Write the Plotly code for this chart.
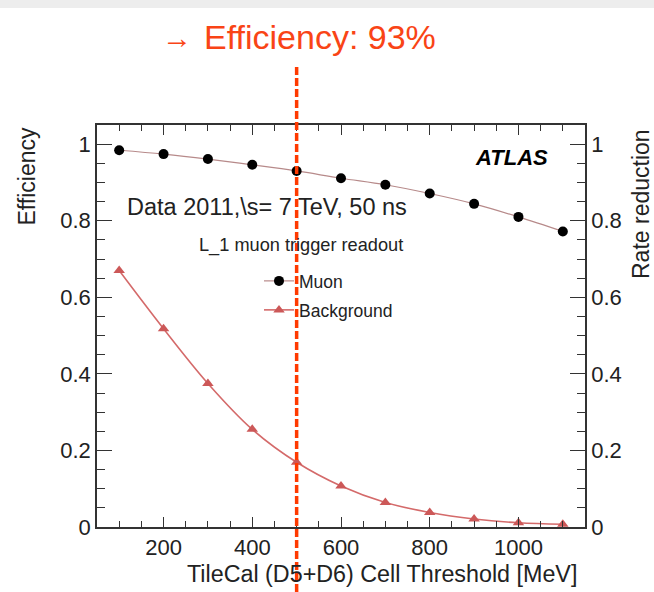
import plotly.graph_objects as go

thresholds = [100, 200, 300, 400, 500, 600, 700, 800, 900, 1000, 1100]
muon_eff = [0.984, 0.974, 0.961, 0.946, 0.930, 0.911, 0.894, 0.871, 0.844, 0.810, 0.772]
background = [0.670, 0.518, 0.375, 0.255, 0.169, 0.107, 0.064, 0.038, 0.021, 0.011, 0.007]
cut_value = 500
title_text = "Efficiency: 93%"
x_title = "TileCal (D5+D6) Cell Threshold [MeV]"
y_title = "Efficiency"
y2_title = "Rate reduction"
data_text = "Data 2011,\\s= 7 TeV, 50 ns"
sub_text = "L_1 muon trigger readout"

W, H = 654, 592
L, R, T, B = 97, 585, 125, 527
def fx(p): return (p - L) / (R - L)
def fy(p): return (B - p) / (B - T)

FONT = "Liberation Sans, Arial, sans-serif"
TXT = "#222222"

fig = go.Figure()
fig.add_trace(go.Scatter(
    x=thresholds, y=muon_eff, name="Muon", mode="lines+markers",
    line=dict(color="#b78a8a", width=1.2, shape="spline"),
    marker=dict(color="black", size=10, symbol="circle"),
    legend="legend", showlegend=True))
fig.add_trace(go.Scatter(
    x=thresholds, y=background, name="Background", mode="lines+markers",
    line=dict(color="#d46a6a", width=1.6, shape="spline"),
    marker=dict(color="#cc5858", size=10, symbol="triangle-up"),
    legend="legend2", yaxis="y2", showlegend=True))

axcol = "#333333"
common_y = dict(range=[0, 1.05], dtick=0.2, tick0=0, ticks="inside", ticklen=15,
                tickwidth=1.3, tickcolor=axcol, showline=True, linecolor=axcol,
                linewidth=1.5, showgrid=False, zeroline=False,
                tickfont=dict(family=FONT, size=22, color=TXT),
                minor=dict(dtick=0.05, tick0=0, ticks="inside", ticklen=8,
                           tickcolor=axcol, tickwidth=1.2, showgrid=False))

leg_common = dict(xanchor="left", yanchor="middle", bgcolor="rgba(0,0,0,0)",
                  borderwidth=0, font=dict(family=FONT, size=17.5, color=TXT),
                  visible=True)

fig.update_layout(
    width=W, height=H,
    margin=dict(l=L, r=W - R, t=T, b=H - B),
    paper_bgcolor="white", plot_bgcolor="white",
    font=dict(family=FONT, color=TXT),
    showlegend=True,
    xaxis=dict(range=[50, 1150], dtick=200, tick0=0, ticks="inside", ticklen=10,
               tickwidth=1.3, tickcolor=axcol, showline=True, linecolor=axcol,
               linewidth=1.5, mirror="ticks", showgrid=False, zeroline=False,
               tickfont=dict(family=FONT, size=22, color=TXT),
               minor=dict(dtick=50, tick0=0, ticks="inside", ticklen=6,
                          tickcolor=axcol, tickwidth=1.2, showgrid=False)),
    yaxis=dict(side="left", **common_y),
    yaxis2=dict(side="right", overlaying="y", **common_y),
    legend=dict(x=fx(259), y=fy(281), **leg_common),
    legend2=dict(x=fx(259), y=fy(310), **leg_common),
)

# light gray top strip
fig.add_shape(type="rect", xref="paper", yref="paper",
              x0=fx(0), x1=fx(W), y0=fy(8), y1=fy(0),
              fillcolor="#ededed", line=dict(width=0), layer="below")

# dashed cut line
fig.add_shape(type="line", xref="x", yref="paper",
              x0=cut_value, x1=cut_value, y0=fy(H), y1=fy(65),
              line=dict(color="#ff3a00", width=3.5, dash="8px,3px"), layer="above")

ann = [
    dict(text="→", x=fx(177), y=fy(37), xanchor="center", yanchor="middle",
         font=dict(size=30, color="#f94416")),
    dict(text=title_text, x=fx(202), y=fy(37), xanchor="left", yanchor="middle",
         font=dict(size=34, color="#f94416")),
    dict(text=y_title, x=fx(26), y=fy(125), xanchor="center", yanchor="top",
         textangle=-90, font=dict(size=23, color=TXT)),
    dict(text=y2_title, x=fx(641), y=fy(127), xanchor="center", yanchor="top",
         textangle=-90, font=dict(size=23, color=TXT)),
    dict(text=x_title, x=fx(579), y=fy(574), xanchor="right", yanchor="middle",
         font=dict(size=23.3, color=TXT)),
    dict(text=data_text, x=fx(125), y=fy(207), xanchor="left", yanchor="middle",
         font=dict(size=23.5, color=TXT)),
    dict(text=sub_text, x=fx(197), y=fy(245), xanchor="left", yanchor="middle",
         font=dict(size=18.2, color=TXT)),
    dict(text="<b><i>ATLAS</i></b>", x=fx(473), y=fy(157), xanchor="left",
         yanchor="middle", font=dict(size=22, color="black")),
]
for a in ann:
    a.update(xref="paper", yref="paper", showarrow=False)
    a["font"]["family"] = FONT
    fig.add_annotation(**a)

fig.write_html("out.html")
